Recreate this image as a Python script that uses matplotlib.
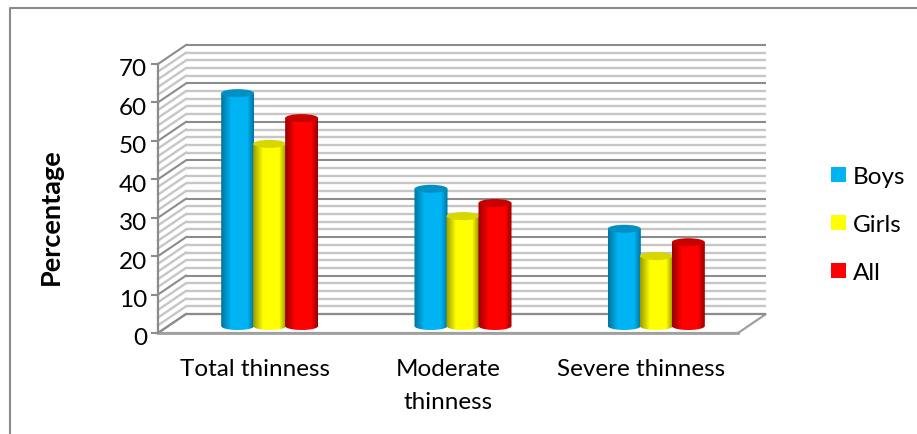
import numpy as np
import matplotlib
matplotlib.use('Agg')
import matplotlib.pyplot as plt
from matplotlib.colors import LinearSegmentedColormap
from matplotlib.patches import Ellipse, Polygon, PathPatch, Rectangle
from matplotlib.path import Path

categories = ['Total thinness', 'Moderate\nthinness', 'Severe thinness']
series_names = ['Boys', 'Girls', 'All']
boys = [60.6, 35.7, 25.3]
girls = [47.4, 28.6, 18.2]
all_kids = [54.1, 32.0, 21.8]
y_ticks = [0, 10, 20, 30, 40, 50, 60, 70]

# light, dark edge and top shade for each series
colors = {'Boys': ('#00b4f4', '#00749e', '#0090c4'),
          'Girls': ('#ffff00', '#9a9a00', '#d6d600'),
          'All': ('#ff0000', '#960000', '#c80000')}

W, H = 917, 435
plt.rcParams['font.family'] = ['Lato', 'DejaVu Sans']
fig = plt.figure(figsize=(W / 100, H / 100), dpi=100)
ax = fig.add_axes([158 / W, 1 - 334 / H, 580 / W, 269 / H])
ax.axis('off')

# pixels per data unit
px_x = 580 / 3
px_y = 269 / 70
# depth of the box in data units
dx = 28 / px_x
dy = 19 / px_y
grid_minor = '#c6c6c6'
grid_major = '#8c8c8c'

# floor
ax.add_patch(Polygon([(0, 0), (3, 0), (3 + dx, dy), (dx, dy)], closed=True, fc='white',
                     ec='#a0a0a0', lw=1.6, clip_on=False, zorder=1))

# back wall and side wall lines
for v in range(0, 71, 2):
    major = v % 10 == 0
    c = grid_major if major else grid_minor
    lw = 1.5 if major else 1.7
    ax.plot([dx, 3 + dx], [v + dy, v + dy], color=c, lw=lw, clip_on=False, zorder=2,
            solid_capstyle='butt')
    ax.plot([0, dx], [v, v + dy], color=c, lw=lw, clip_on=False, zorder=2)

ax.plot([0, 0], [0, 70], color='#8c8c8c', lw=1.6, clip_on=False, zorder=3)
ax.plot([0, 3], [0, 0], color='#a0a0a0', lw=2, clip_on=False, zorder=3)
for v in y_ticks:
    ax.plot([-6 / px_x, 0], [v, v], color='#8c8c8c', lw=1.5, clip_on=False, zorder=3)
    ax.text(-11 / px_x, v - 5 / px_y, str(v), ha='right', va='center', fontsize=17.5, color='black')


def cylinder(x, value, name, z):
    light, dark, top = colors[name]
    w = 33 / px_x
    base = 7 / px_y
    eh = 8 / px_y
    cmap = LinearSegmentedColormap.from_list(name, [(0, dark), (0.3, light), (0.8, light), (1, dark)],
                                             N=128)
    grad = np.linspace(0, 1, 64).reshape(1, -1)
    verts = [(x - w / 2, base + value), (x - w / 2, base)]
    t = np.linspace(np.pi, 2 * np.pi, 30)
    verts += [(x + w / 2 * np.cos(a), base + eh / 2 * np.sin(a)) for a in t]
    verts += [(x + w / 2, base + value)]
    body = PathPatch(Path(verts + [verts[0]], closed=True), fc='none', ec='none', zorder=z)
    ax.add_patch(body)
    im = ax.imshow(grad, extent=(x - w / 2, x + w / 2, base - eh, base + value), cmap=cmap,
                   aspect='auto', zorder=z, interpolation='bilinear')
    im.set_clip_path(body)
    ax.add_patch(Ellipse((x, base + value), w, eh, fc=top, ec='none', zorder=z + 0.1))


# one cluster of cylinders per category
bar_step = 32 / px_x
shift = dx / 2 + 1 / px_x
for i in range(len(categories)):
    for j, vals in enumerate([boys, girls, all_kids]):
        cylinder(i + 0.5 + shift + (j - 1) * bar_step, vals[i], series_names[j], 5 + j * 0.5)

ax.set_xlim(0, 3)
ax.set_ylim(0, 70)

# category labels below the floor
for i, cat in enumerate(categories):
    ax.text(i + 0.5, -25 / px_y, cat, ha='center', va='top', fontsize=17.5, linespacing=1.7)

fig.text(51 / W, 1 - 217 / H, 'Percentage', rotation=90, ha='center', va='center',
         fontsize=19.5, fontweight='bold')

# legend
for k, name in enumerate(series_names):
    y = 176 + k * 48
    fig.add_artist(Rectangle((831 / W, 1 - (y + 7) / H), 15 / W, 15 / H,
                             transform=fig.transFigure, fc=colors[name][0], ec='none'))
    fig.text(853 / W, 1 - (y + 2) / H, name, ha='left', va='center', fontsize=17.5)

# outer chart frame, only left and top edges are in view
fig.add_artist(plt.Line2D([10 / W, 10 / W, 1], [0, 1 - 9 / H, 1 - 9 / H], color='#8a8a8a', lw=1.5))

fig.savefig('out.png', dpi=100)
